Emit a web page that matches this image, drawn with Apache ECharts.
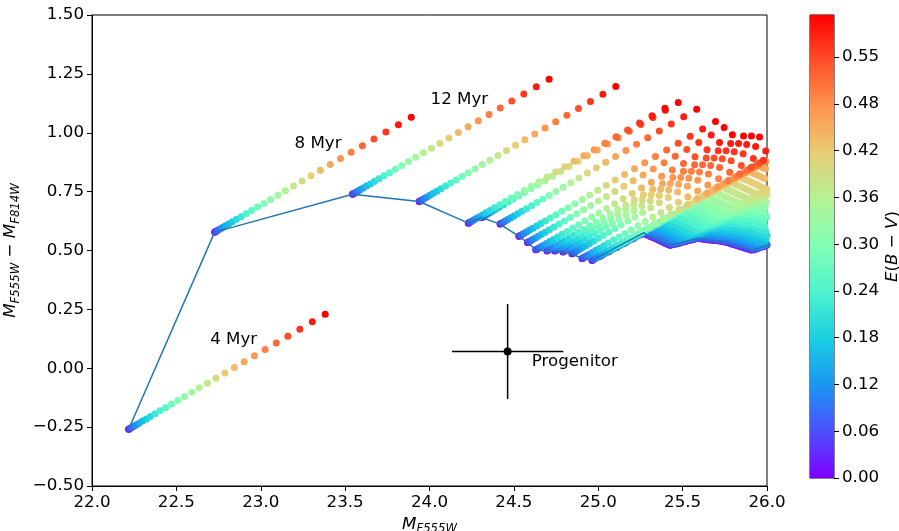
<!DOCTYPE html>
<html>
<head>
<meta charset="utf-8">
<script src="https://cdn.jsdelivr.net/npm/echarts@6/dist/echarts.min.js"></script>
<style>
  html, body { margin: 0; padding: 0; background: #fff; }
  #chart { width: 899px; height: 531px; }
</style>
</head>
<body>
<div id="chart"></div>
<script>
// reddening steps, E(B-V)
const ebv = [0.00, 0.02, 0.04, 0.06, 0.08, 0.10, 0.12, 0.14, 0.16, 0.18, 0.20,
  0.22, 0.24, 0.26, 0.28, 0.30, 0.32, 0.34, 0.36, 0.38, 0.40,
  0.42, 0.44, 0.46, 0.48, 0.50, 0.52, 0.54, 0.56, 0.58, 0.60];
const shiftM = [0, 0.0013, 0.0052, 0.0117, 0.0207, 0.0324, 0.0466, 0.0634, 0.0828, 0.1049, 0.1294,
  0.1566, 0.1864, 0.2188, 0.2537, 0.2913, 0.3314, 0.3741, 0.4194, 0.4673, 0.5178,
  0.5709, 0.6265, 0.6848, 0.7456, 0.8090, 0.8751, 0.9437, 1.0148, 1.0886, 1.165];
const shiftC = [0, 0.0005, 0.0022, 0.0049, 0.0087, 0.0136, 0.0195, 0.0266, 0.0347, 0.0439, 0.0542,
  0.0656, 0.0781, 0.0916, 0.1063, 0.1220, 0.1388, 0.1567, 0.1757, 0.1957, 0.2169,
  0.2391, 0.2625, 0.2868, 0.3123, 0.3389, 0.3665, 0.3953, 0.4251, 0.4560, 0.488];

// unreddened isochrone points (one reddening track each)
const isoM = [22.217, 22.727, 23.544, 23.939, 24.230, 24.309, 24.418, 24.530, 24.581, 24.630,
  24.696, 24.743, 24.791, 24.844, 24.904, 24.963, 25.011, 25.058, 25.106, 25.153,
  25.201, 25.248, 25.272, 25.289, 25.307, 25.325, 25.343, 25.361, 25.378, 25.396,
  25.414, 25.426, 25.444, 25.461, 25.479, 25.497, 25.515, 25.533, 25.550, 25.568,
  25.586, 25.604, 25.622, 25.639, 25.657, 25.675, 25.693, 25.711, 25.728, 25.746,
  25.764, 25.782, 25.800, 25.817, 25.835, 25.853, 25.871, 25.889, 25.906, 25.924,
  25.942, 25.960, 25.978, 25.995, 26.150];
const isoC = [-0.259, 0.578, 0.739, 0.708, 0.616, 0.640, 0.612, 0.560, 0.534, 0.503,
  0.498, 0.498, 0.494, 0.486, 0.466, 0.458, 0.476, 0.494, 0.513, 0.531,
  0.549, 0.567, 0.576, 0.566, 0.560, 0.555, 0.549, 0.543, 0.537, 0.531,
  0.525, 0.522, 0.525, 0.528, 0.531, 0.535, 0.538, 0.542, 0.545, 0.548,
  0.551, 0.550, 0.548, 0.547, 0.545, 0.544, 0.542, 0.541, 0.539, 0.537,
  0.534, 0.530, 0.526, 0.522, 0.518, 0.514, 0.510, 0.506, 0.502, 0.503,
  0.508, 0.513, 0.517, 0.522, 0.540];

const ageText = ['4 Myr', '8 Myr', '12 Myr'];
const ageM = [22.70, 23.20, 24.006];
const ageC = [0.12, 0.954, 1.142];

const progM = 24.463;
const progC = 0.071;
const progErrM = 0.33;
const progErrC = 0.202;

const cbTicks = [0, 0.0606, 0.1212, 0.1818, 0.2424, 0.3030, 0.3636, 0.4242, 0.4848, 0.5455];
// matplotlib "rainbow"
const rainbow = ['#8000ff', '#4d4ffc', '#1a96f2', '#1acee3', '#4df3ce', '#80ffb4',
  '#b3f396', '#e6ce74', '#ff964f', '#ff4f28', '#ff0000'];

// one reddening step at a time, so the redder dots sit on top
const trackData = [];
ebv.forEach((e, k) => {
  isoM.forEach((m, i) => {
    trackData.push([m + shiftM[k], isoC[i] + shiftC[k], e]);
  });
});

const font = 'DejaVu Sans';
const fs = 16.7;
const black = '#000';
const mathRich = {
  i: { fontSize: fs, fontStyle: 'italic', fontFamily: font, color: black },
  s: { fontSize: 11.7, fontStyle: 'italic', fontFamily: font, color: black, padding: [10, 0, 0, 0] },
  t: { fontSize: fs, fontFamily: font, color: black },
};

const option = {
  animation: false,
  textStyle: { fontFamily: font },
  visualMap: {
    show: false,
    type: 'continuous',
    seriesIndex: 0,
    dimension: 2,
    min: 0,
    max: 0.6,
    inRange: { color: rainbow },
  },
  grid: [
    { left: 92, top: 15, width: 675, height: 471, show: true, borderColor: black, borderWidth: 1, outerBoundsMode: 'none' },
    { left: 810, top: 15, width: 24, height: 463, show: true, borderColor: black, borderWidth: 1, outerBoundsMode: 'none' },
  ],
  xAxis: [
    {
      type: 'value',
      gridIndex: 0,
      min: 22,
      max: 26,
      interval: 0.5,
      splitLine: { show: false },
      axisLine: { onZero: false, lineStyle: { color: black, width: 1 } },
      axisTick: { length: 5, lineStyle: { color: black } },
      axisLabel: { color: black, fontSize: fs, margin: 8, formatter: (v) => v.toFixed(1) },
      name: '{i|M}{s|F555W}',
      nameLocation: 'middle',
      nameGap: 24,
      nameTextStyle: { rich: mathRich },
    },
    { type: 'category', gridIndex: 1, data: ['cb'], show: false },
  ],
  yAxis: [
    {
      type: 'value',
      gridIndex: 0,
      min: -0.5,
      max: 1.5,
      interval: 0.25,
      splitLine: { show: false },
      axisLine: { onZero: false, lineStyle: { color: black, width: 1 } },
      axisTick: { length: 5, lineStyle: { color: black } },
      axisLabel: {
        color: black,
        fontSize: fs,
        margin: 8,
        formatter: (v) => (v < 0 ? '\u2212' : '') + Math.abs(v).toFixed(2),
      },
      name: '{i|M}{s|F555W}{t| \u2212 }{i|M}{s|F814W}',
      nameLocation: 'middle',
      nameGap: 60,
      nameRotate: 90,
      nameTextStyle: { rich: mathRich },
    },
    {
      type: 'value',
      gridIndex: 1,
      position: 'right',
      min: 0,
      max: 0.6,
      splitLine: { show: false },
      axisLine: { show: false },
      axisTick: { show: true, length: 5, customValues: cbTicks, lineStyle: { color: black } },
      axisLabel: { color: black, fontSize: fs, margin: 8, customValues: cbTicks, formatter: (v) => v.toFixed(2) },
      name: '{i|E}{t|(}{i|B}{t| \u2212 }{i|V}{t|)}',
      nameLocation: 'middle',
      nameGap: 50,
      nameRotate: 90,
      nameTextStyle: { rich: mathRich },
    },
  ],
  series: [
    {
      type: 'scatter',
      xAxisIndex: 0,
      yAxisIndex: 0,
      symbolSize: 7,
      progressive: 0,
      large: false,
      clip: true,
      itemStyle: { opacity: 1 },
      data: trackData,
      z: 2,
    },
    {
      type: 'line',
      xAxisIndex: 0,
      yAxisIndex: 0,
      showSymbol: false,
      symbol: 'none',
      clip: true,
      lineStyle: { color: '#1f77b4', width: 1.5 },
      data: isoM.map((m, i) => [m, isoC[i]]),
      z: 3,
    },
    {
      type: 'line',
      xAxisIndex: 0,
      yAxisIndex: 0,
      symbol: 'none',
      lineStyle: { color: black, width: 1.5 },
      data: [[progM - progErrM, progC], [progM + progErrM, progC]],
      z: 4,
    },
    {
      type: 'line',
      xAxisIndex: 0,
      yAxisIndex: 0,
      symbol: 'none',
      lineStyle: { color: black, width: 1.5 },
      data: [[progM, progC - progErrC], [progM, progC + progErrC]],
      z: 4,
    },
    {
      type: 'scatter',
      xAxisIndex: 0,
      yAxisIndex: 0,
      symbolSize: 8,
      itemStyle: { color: black, opacity: 1 },
      data: [[progM, progC]],
      z: 5,
    },
    {
      type: 'scatter',
      xAxisIndex: 0,
      yAxisIndex: 0,
      symbolSize: 0,
      itemStyle: { opacity: 1 },
      data: ageText.map((t, i) => ({ name: t, value: [ageM[i], ageC[i]] }))
        .concat([{ name: 'Progenitor', value: [24.606, 0.028] }]),
      label: {
        show: true,
        position: 'right',
        distance: 0,
        formatter: (p) => p.name,
        color: black,
        fontSize: fs,
        fontFamily: font,
      },
      z: 6,
    },
    {
      type: 'bar',
      xAxisIndex: 1,
      yAxisIndex: 1,
      barWidth: '100%',
      data: [0.6],
      itemStyle: {
        color: new echarts.graphic.LinearGradient(0, 1, 0, 0,
          rainbow.map((c, i) => ({ offset: i / (rainbow.length - 1), color: c }))),
      },
      silent: true,
    },
  ],
};

const myChart = echarts.init(document.getElementById('chart'), null, { renderer: 'canvas' });
myChart.setOption(option);
</script>
</body>
</html>
